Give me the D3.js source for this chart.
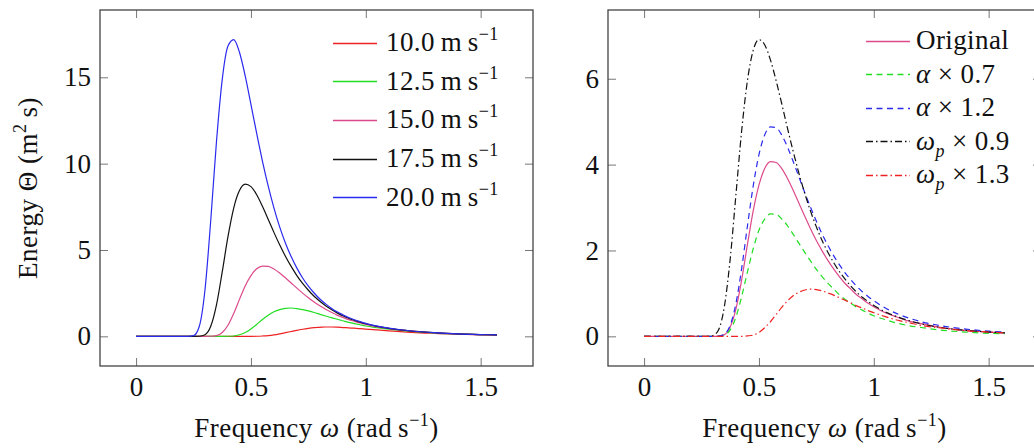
<!DOCTYPE html>
<html>
<head>
<meta charset="utf-8">
<script src="https://cdn.jsdelivr.net/npm/d3@7"></script>
<style>
  body { margin: 0; background: #fff; }
  svg text { font-family: "Liberation Serif", "DejaVu Serif", serif !important; fill: #111; }
</style>
</head>
<body>
<svg id="chart" width="1034" height="448"></svg>
<script>
// Frequency grid (rad/s) shared by every spectrum
const omega = [0, 0.1, 0.2, 0.225, 0.25, 0.275, 0.3, 0.325, 0.35, 0.375, 0.4, 0.425, 0.45, 0.475,
  0.5, 0.525, 0.55, 0.575, 0.6, 0.625, 0.65, 0.675, 0.7, 0.725, 0.75, 0.775, 0.8, 0.825, 0.85,
  0.875, 0.9, 0.925, 0.95, 0.975, 1.0, 1.05, 1.1, 1.15, 1.2, 1.3, 1.4, 1.5, 1.5708];

// Wave energy spectra for several wind speeds
const windSpeeds = ["10.0", "12.5", "15.0", "17.5", "20.0"];
const energy10 = [0, 0, 0, 0, 0, 0, 0, 0, 0, 0, 0, 0, 0, 0,
  0.001, 0.006, 0.02, 0.04, 0.08, 0.14, 0.21, 0.28, 0.35, 0.41, 0.46, 0.50, 0.52, 0.54, 0.54,
  0.53, 0.51, 0.49, 0.47, 0.45, 0.42, 0.37, 0.32, 0.27, 0.23, 0.17, 0.12, 0.09, 0.07];
const energy12_5 = [0, 0, 0, 0, 0, 0, 0, 0, 0,
  0, 0.004, 0.02, 0.09, 0.22, 0.43, 0.69, 0.97, 1.22, 1.42, 1.55, 1.62, 1.64, 1.61, 1.55, 1.47,
  1.38, 1.28, 1.18, 1.08, 0.99, 0.90, 0.81, 0.74, 0.67, 0.60, 0.50, 0.41, 0.34, 0.28, 0.19, 0.14, 0.10, 0.08];
const energy15 = [0, 0, 0, 0, 0, 0, 0,
  0.004, 0.04, 0.22, 0.64, 1.32, 2.14, 2.92, 3.52, 3.91, 4.07, 4.05, 3.90, 3.67, 3.39, 3.09, 2.79,
  2.50, 2.23, 1.99, 1.77, 1.57, 1.39, 1.23, 1.10, 0.97, 0.87, 0.77, 0.69, 0.55, 0.45, 0.36, 0.30, 0.20, 0.14, 0.10, 0.08];
const energy17_5 = [0, 0, 0, 0, 0,
  0.005, 0.09, 0.58, 1.82, 3.73, 5.77, 7.43, 8.44, 8.81, 8.67, 8.20, 7.53, 6.78, 6.02, 5.30, 4.64,
  4.05, 3.52, 3.06, 2.67, 2.32, 2.03, 1.77, 1.55, 1.36, 1.19, 1.05, 0.93, 0.82, 0.73, 0.58, 0.46, 0.37, 0.30, 0.21, 0.14, 0.10, 0.08];
const energy20 = [0, 0, 0, 0,
  0.04, 0.57, 2.70, 6.71, 11.28, 14.87, 16.81, 17.18, 16.45, 15.08, 13.43, 11.75, 10.15, 8.71, 7.44,
  6.34, 5.41, 4.62, 3.95, 3.38, 2.91, 2.51, 2.16, 1.88, 1.63, 1.42, 1.25, 1.09, 0.96, 0.85, 0.75,
  0.59, 0.47, 0.38, 0.31, 0.21, 0.14, 0.10, 0.08];

// Sensitivity of the 15 m/s spectrum to its parameters
const original = [0, 0, 0, 0, 0, 0, 0,
  0.004, 0.04, 0.22, 0.64, 1.32, 2.14, 2.92, 3.52, 3.91, 4.07, 4.05, 3.90, 3.67, 3.39, 3.09, 2.79,
  2.50, 2.23, 1.99, 1.77, 1.57, 1.39, 1.23, 1.10, 0.97, 0.87, 0.77, 0.69, 0.55, 0.45, 0.36, 0.30, 0.20, 0.14, 0.10, 0.08];
const alphaX07 = [0, 0, 0, 0, 0, 0, 0,
  0.003, 0.03, 0.15, 0.45, 0.93, 1.50, 2.04, 2.47, 2.73, 2.85, 2.84, 2.73, 2.57, 2.37, 2.16, 1.95,
  1.75, 1.56, 1.39, 1.24, 1.10, 0.97, 0.86, 0.77, 0.68, 0.61, 0.54, 0.48, 0.39, 0.31, 0.25, 0.21, 0.14, 0.10, 0.07, 0.06];
const alphaX12 = [0, 0, 0, 0, 0, 0, 0,
  0.004, 0.05, 0.26, 0.77, 1.59, 2.57, 3.50, 4.23, 4.69, 4.88, 4.86, 4.68, 4.40, 4.06, 3.70, 3.34,
  3.00, 2.68, 2.38, 2.12, 1.88, 1.67, 1.48, 1.32, 1.17, 1.04, 0.93, 0.83, 0.66, 0.53, 0.43, 0.35, 0.24, 0.17, 0.12, 0.10];
const omegaPX09 = [0, 0, 0, 0, 0,
  0.0004, 0.02, 0.16, 0.71, 1.81, 3.31, 4.80, 5.96, 6.66, 6.91, 6.79, 6.44, 5.95, 5.40, 4.83, 4.29,
  3.78, 3.32, 2.91, 2.55, 2.23, 1.96, 1.72, 1.51, 1.33, 1.17, 1.03, 0.91, 0.81, 0.72, 0.57, 0.46, 0.37, 0.30, 0.20, 0.14, 0.10, 0.08];
const omegaPX13 = [0, 0, 0, 0, 0, 0, 0, 0, 0, 0, 0, 0,
  0.01, 0.03, 0.09, 0.20, 0.34, 0.51, 0.68, 0.83, 0.95, 1.03, 1.08, 1.10, 1.09, 1.06, 1.01, 0.96,
  0.90, 0.84, 0.78, 0.71, 0.66, 0.60, 0.55, 0.46, 0.38, 0.32, 0.26, 0.19, 0.13, 0.10, 0.08];

// Tick values
const xTicks = [0, 0.5, 1, 1.5];
const xTickLabels = ["0", "0.5", "1", "1.5"];
const yTicksLeft = [0, 5, 10, 15];
const yTicksRight = [0, 2, 4, 6];

const COLORS = { red: "#ee2222", green: "#22dd22", pink: "#dc4a8c", black: "#111111", blue: "#2a2aee" };
const DASHED = "6,4.5";
const DASHDOT = "7,3,1.5,3";
const FONT = 27;
const SERIF = '"Liberation Serif", "DejaVu Serif", serif';

const svg = d3.select("#chart").attr("font-family", SERIF);

// Appends tspans with optional italic / superscript / subscript parts
function rich(sel, parts) {
  let shift = 0;
  parts.forEach(p => {
    const target = p.sup ? -11 : p.sub ? 7 : 0;
    const ts = sel.append("tspan").text(p.t).attr("dy", target - shift);
    shift = target;
    if (p.sup || p.sub) ts.attr("font-size", Math.round(FONT * 0.68));
    if (p.it) ts.attr("font-style", "italic");
  });
}

function drawPanel(o) {
  const g = svg.append("g").attr("transform", `translate(${o.left},${o.top})`);
  const W = o.width, H = o.height;

  const xr = d3.extent(omega), xpad = (xr[1] - xr[0]) * 0.1;
  const x = d3.scaleLinear().domain([xr[0] - xpad, xr[1] + xpad]).range([0, W]);
  const ymin = d3.min(o.series, s => d3.min(s.values));
  const ymax = d3.max(o.series, s => d3.max(s.values));
  const ypad = (ymax - ymin) * 0.1;
  const y = d3.scaleLinear().domain([ymin - ypad, ymax + ypad]).range([H, 0]);

  g.append("clipPath").attr("id", o.id + "-clip")
    .append("rect").attr("width", W).attr("height", H);

  const line = d3.line()
    .x((d, i) => x(omega[i]))
    .y(d => y(d))
    .curve(d3.curveMonotoneX);

  g.append("g").attr("clip-path", `url(#${o.id}-clip)`)
    .selectAll("path").data(o.series).join("path")
    .attr("d", s => line(s.values))
    .attr("fill", "none")
    .attr("stroke", s => s.color)
    .attr("stroke-width", 1.2)
    .attr("stroke-dasharray", s => s.dash || null);

  // axes: ticks point inward on all four sides
  const T = 8;
  const styleAxis = a => {
    a.attr("font-family", SERIF).attr("font-size", FONT);
    a.select(".domain").remove();
    a.selectAll(".tick line").attr("stroke", "#777").attr("stroke-width", 1);
    a.selectAll(".tick text").attr("fill", "#111");
  };
  g.append("g").attr("transform", `translate(0,${H})`)
    .call(d3.axisBottom(x).tickValues(xTicks).tickFormat((d, i) => xTickLabels[i])
      .tickSizeInner(-T).tickSizeOuter(0).tickPadding(11))
    .call(styleAxis);
  g.append("g")
    .call(d3.axisTop(x).tickValues(xTicks).tickFormat("").tickSizeInner(-T).tickSizeOuter(0))
    .call(styleAxis);
  g.append("g")
    .call(d3.axisLeft(y).tickValues(o.yTicks).tickFormat(d3.format("d"))
      .tickSizeInner(-T).tickSizeOuter(0).tickPadding(9))
    .call(styleAxis);
  g.append("g").attr("transform", `translate(${W},0)`)
    .call(d3.axisRight(y).tickValues(o.yTicks).tickFormat("").tickSizeInner(-T).tickSizeOuter(0))
    .call(styleAxis);

  g.append("rect").attr("width", W).attr("height", H)
    .attr("fill", "none").attr("stroke", "#444").attr("stroke-width", 1.3);

  // x-axis title
  const xt = g.append("text").attr("x", W / 2).attr("y", 427)
    .attr("text-anchor", "middle").attr("font-size", FONT).attr("letter-spacing", 0.5);
  rich(xt, [{ t: "Frequency " }, { t: "\u03c9", it: true }, { t: " (rad\u2009s" }, { t: "\u22121", sup: true }, { t: ")" }]);

  // legend
  const L = o.legend;
  const lg = g.append("g");
  o.series.forEach((s, i) => {
    const ly = L.y0 + i * L.step;
    const lineY = Math.round(ly) + 0.5;
    lg.append("line").attr("x1", W - L.lineFrom).attr("x2", W - L.lineTo)
      .attr("y1", lineY).attr("y2", lineY)
      .attr("stroke", s.color).attr("stroke-width", 1.3)
      .attr("stroke-dasharray", s.dash || null);
    const t = lg.append("text").attr("x", W - L.textFrom).attr("y", ly + 8.5)
      .attr("font-size", FONT).attr("letter-spacing", 0.4);
    rich(t, s.label);
  });
  return g;
}

const speedLabel = v => [{ t: v + "\u2009m\u2009s" }, { t: "\u22121", sup: true }];
const leftSeries = [
  { values: energy10, color: COLORS.red, label: speedLabel(windSpeeds[0]) },
  { values: energy12_5, color: COLORS.green, label: speedLabel(windSpeeds[1]) },
  { values: energy15, color: COLORS.pink, label: speedLabel(windSpeeds[2]) },
  { values: energy17_5, color: COLORS.black, label: speedLabel(windSpeeds[3]) },
  { values: energy20, color: COLORS.blue, label: speedLabel(windSpeeds[4]) }
];
const rightSeries = [
  { values: original, color: COLORS.pink, label: [{ t: "Original" }] },
  { values: alphaX07, color: COLORS.green, dash: DASHED, label: [{ t: "\u03b1", it: true }, { t: " \u00d7 0.7" }] },
  { values: alphaX12, color: COLORS.blue, dash: DASHED, label: [{ t: "\u03b1", it: true }, { t: " \u00d7 1.2" }] },
  { values: omegaPX09, color: COLORS.black, dash: DASHDOT, label: [{ t: "\u03c9", it: true }, { t: "p", it: true, sub: true }, { t: " \u00d7 0.9" }] },
  { values: omegaPX13, color: COLORS.red, dash: DASHDOT, label: [{ t: "\u03c9", it: true }, { t: "p", it: true, sub: true }, { t: " \u00d7 1.3" }] }
];

drawPanel({
  id: "wind", left: 100, top: 10, width: 433, height: 356,
  series: leftSeries, yTicks: yTicksLeft,
  legend: { y0: 32.7, step: 38.6, lineFrom: 200, lineTo: 156, textFrom: 147 }
});
drawPanel({
  id: "sens", left: 608, top: 10, width: 433, height: 356,
  series: rightSeries, yTicks: yTicksRight,
  legend: { y0: 30.5, step: 33.5, lineFrom: 175, lineTo: 131, textFrom: 125 }
});

// y-axis title of the left panel
const yt = svg.append("text")
  .attr("transform", "translate(37,188) rotate(-90)")
  .attr("text-anchor", "middle").attr("font-size", FONT).attr("letter-spacing", 0.5);
rich(yt, [{ t: "Energy \u0398 (m" }, { t: "2", sup: true }, { t: "\u2009s)" }]);
</script>
</body>
</html>
